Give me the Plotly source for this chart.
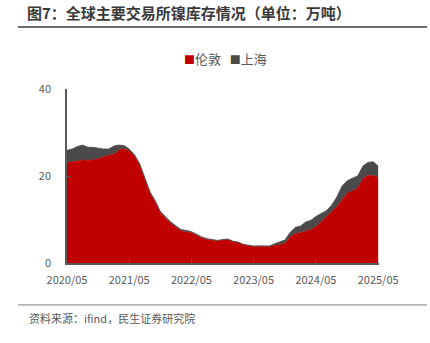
import plotly.graph_objects as go

months = [f"{2020 + (4 + i) // 12}-{(4 + i) % 12 + 1:02d}-01" for i in range(61)]

lme = [23.1, 23.3, 23.6, 23.7, 23.6, 23.7, 24.0, 24.4, 24.8, 25.0,
       26.0, 26.3, 25.8, 24.6, 22.6, 19.2, 16.0, 14.0, 11.5, 10.3,
       9.1, 8.2, 7.4, 7.1, 7.0, 6.4, 5.8, 5.4, 5.2, 5.1,
       5.3, 5.4, 4.9, 4.7, 4.2, 4.0, 3.8, 3.85, 3.8, 3.8,
       4.0, 4.2, 4.5, 6.0, 6.8, 7.0, 7.4, 7.7, 8.4, 9.5,
       10.5, 11.8, 13.0, 14.5, 16.1, 16.6, 17.3, 19.5, 20.2, 20.2,
       19.6]
total = [25.9, 26.2, 26.8, 27.1, 26.6, 26.6, 26.4, 26.2, 26.2, 26.9,
         27.1, 27.0, 26.2, 24.9, 22.9, 19.5, 16.3, 14.3, 11.8, 10.6,
         9.4, 8.5, 7.7, 7.5, 7.2, 6.6, 6.0, 5.6, 5.35, 5.2,
         5.4, 5.5, 5.0, 4.8, 4.3, 4.1, 3.9, 3.95, 3.9, 3.9,
         4.4, 4.9, 5.3, 7.0, 8.2, 8.5, 9.4, 9.8, 10.7, 11.4,
         12.0, 13.3, 15.2, 17.7, 18.9, 19.5, 20.0, 22.3, 23.1, 23.3,
         22.3]
shfe = [round(t - l, 2) for t, l in zip(total, lme)]
names = ["伦敦", "上海"]
colors = ["#C00000", "#4A4A4A"]

FONT = "Noto Sans CJK SC"
GRAY = "#595959"

fig = go.Figure()
fig.add_trace(go.Scatter(x=months, y=lme, name=names[0], stackgroup="s",
                         mode="lines", line=dict(color=colors[0], width=0.5),
                         fillcolor=colors[0], showlegend=False))
fig.add_trace(go.Scatter(x=months, y=shfe, name=names[1], stackgroup="s",
                         mode="lines", line=dict(color=colors[1], width=0.8),
                         fillcolor=colors[1], showlegend=False))

legend_text = "&nbsp;&nbsp;&nbsp;".join(
    f"<span style='color:{c};font-size:11px'>■</span>{n}" for n, c in zip(names, colors))

fig.update_layout(
    width=430, height=343,
    margin=dict(l=67, r=51, t=89, b=80),
    paper_bgcolor="white", plot_bgcolor="white",
    font=dict(family=FONT, color=GRAY, size=11),
    title=dict(text="<b>图7：全球主要交易所镍库存情况（单位：万吨）</b>",
               x=27 / 430, xanchor="left", y=1 - 14 / 343, yanchor="middle",
               font=dict(family=FONT, size=15, color="#3a3a3a")),
    showlegend=False,
    xaxis=dict(type="date", range=["2020-05-01", "2025-05-06"],
               tick0="2020-05-01", dtick="M12", tickformat="%Y/%m",
               showgrid=False, showline=True, linecolor=GRAY, linewidth=1.5,
               ticks="inside", ticklen=4, tickcolor=GRAY, zeroline=False,
               ticklabelstandoff=6, tickfont=dict(size=11, color=GRAY)),
    yaxis=dict(range=[0, 40], dtick=20, showgrid=False, showline=True,
               linecolor=GRAY, linewidth=1.5, ticks="inside", ticklen=4,
               tickcolor=GRAY, zeroline=False, ticklabelstandoff=12,
               tickfont=dict(size=11, color=GRAY)),
    shapes=[
        dict(type="line", xref="paper", yref="paper", x0=-0.157, x1=1.154,
             y0=1.356, y1=1.356, line=dict(color="#3a3a3a", width=1.5)),
        dict(type="line", xref="paper", yref="paper", x0=-0.157, x1=1.154,
             y0=-0.241, y1=-0.241, line=dict(color="#7f7f7f", width=1)),
    ],
    annotations=[
        dict(text=legend_text, xref="paper", yref="paper",
             x=(225 - 67) / 312, y=(263 - 58) / 174, xanchor="center", yanchor="middle",
             showarrow=False, font=dict(family=FONT, size=13, color=GRAY)),
        dict(text="资料来源：ifind，民生证券研究院", xref="paper", yref="paper",
             x=-0.128, y=-0.316, xanchor="left", yanchor="middle", showarrow=False,
             font=dict(family=FONT, size=11, color=GRAY)),
    ],
)

fig.write_html("out.html")
